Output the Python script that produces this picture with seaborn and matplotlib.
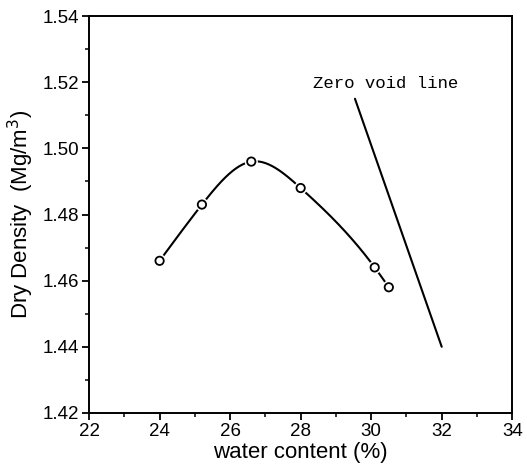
import numpy as np
import pandas as pd
import matplotlib
matplotlib.use("Agg")
import matplotlib.pyplot as plt
import matplotlib.patheffects as pe
from matplotlib.ticker import MultipleLocator
import seaborn as sns

# Compaction test results
water_content = [24.0, 25.2, 26.6, 28.0, 30.1, 30.5]
dry_density = [1.466, 1.483, 1.496, 1.488, 1.464, 1.458]

# Zero air void (saturation) line end points
zero_void_w = [29.54, 32.0]
zero_void_rho = [1.515, 1.44]

x_ticks = [22, 24, 26, 28, 30, 32, 34]
y_ticks = [1.42, 1.44, 1.46, 1.48, 1.50, 1.52, 1.54]


def natural_spline(x, y, n=300):
    """Natural cubic spline through (x, y), evaluated on a dense grid."""
    x = np.asarray(x, float)
    y = np.asarray(y, float)
    k = len(x)
    h = np.diff(x)
    A = np.zeros((k, k))
    b = np.zeros(k)
    A[0, 0] = A[-1, -1] = 1.0
    for i in range(1, k - 1):
        A[i, i - 1] = h[i - 1]
        A[i, i] = 2 * (h[i - 1] + h[i])
        A[i, i + 1] = h[i]
        b[i] = 3 * ((y[i + 1] - y[i]) / h[i] - (y[i] - y[i - 1]) / h[i - 1])
    c = np.linalg.solve(A, b)
    xs = np.linspace(x[0], x[-1], n)
    idx = np.clip(np.searchsorted(x, xs) - 1, 0, k - 2)
    dx = xs - x[idx]
    hi = h[idx]
    bi = (y[idx + 1] - y[idx]) / hi - hi * (2 * c[idx] + c[idx + 1]) / 3
    di = (c[idx + 1] - c[idx]) / (3 * hi)
    ys = y[idx] + bi * dx + c[idx] * dx ** 2 + di * dx ** 3
    return xs, ys


sns.set_theme(style="ticks")
plt.rcParams["font.family"] = ["Liberation Sans", "DejaVu Sans"]

fig = plt.figure(figsize=(5.27, 4.73), dpi=100)
ax = fig.add_axes([0.169, 0.127, 0.803, 0.839])

xs, ys = natural_spline(water_content, dry_density)
curve = pd.DataFrame({"w": xs, "rho": ys})
pts = pd.DataFrame({"w": water_content, "rho": dry_density})
zv = pd.DataFrame({"w": zero_void_w, "rho": zero_void_rho})

sns.lineplot(data=curve, x="w", y="rho", ax=ax, color="black", lw=1.5,
             sort=False, estimator=None)
sns.lineplot(data=zv, x="w", y="rho", ax=ax, color="black", lw=1.5,
             sort=False, estimator=None)
sns.scatterplot(data=pts, x="w", y="rho", ax=ax, s=36, marker="o",
                facecolor="white", edgecolor="black", linewidth=1.3,
                zorder=5,
                path_effects=[pe.Stroke(linewidth=3.5, foreground="white"),
                              pe.Normal()])

ax.text(28.35, 1.5197, "Zero void line", fontsize=12.5,
        family=["Liberation Mono", "DejaVu Sans Mono"], va="center",
        ha="left", color="black")

ax.set_xlim(22, 34)
ax.set_ylim(1.42, 1.54)
ax.set_xticks(x_ticks)
ax.set_yticks(y_ticks)
ax.set_xticklabels([str(v) for v in x_ticks])
ax.set_yticklabels([f"{v:.2f}" for v in y_ticks])
ax.xaxis.set_minor_locator(MultipleLocator(1))
ax.yaxis.set_minor_locator(MultipleLocator(0.01))
ax.tick_params(axis="both", which="major", direction="out", length=5,
               width=1.3, labelsize=13.5, color="black", labelcolor="black",
               pad=2)
ax.tick_params(axis="both", which="minor", direction="out", length=3,
               width=1.1, color="black")
ax.tick_params(top=False, right=False, which="both")

for s in ax.spines.values():
    s.set_linewidth(1.4)
    s.set_color("black")

ax.set_xlabel("water content (%)", fontsize=16, color="black", labelpad=2)
ax.set_ylabel("Dry Density  (Mg/m$^3$)", fontsize=16, color="black",
              labelpad=5)

fig.savefig("out.png", dpi=100, facecolor="white")
